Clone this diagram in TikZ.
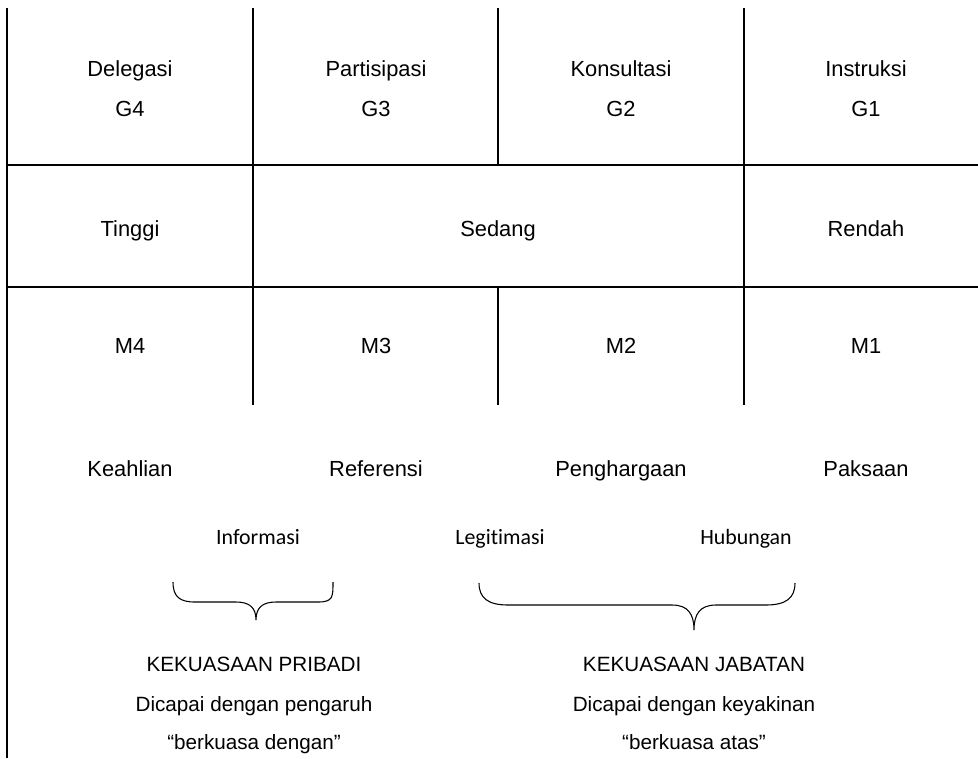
\documentclass[tikz,border=0pt]{standalone}
\usepackage{fontspec}
\setmainfont{Liberation Sans}
\newfontfamily\labelfont[Ligatures=NoCommon]{Carlito}
\begin{document}
\begin{tikzpicture}[x=0.75pt,y=-0.75pt,
  gridline/.style={line width=0.9pt,black},
  bracestroke/.style={line width=0.8pt,black},
  cell/.style={font=\fontsize{16.4}{20}\selectfont,anchor=base,inner sep=0pt},
  summary/.style={font=\fontsize{15.5}{20}\selectfont,anchor=base,inner sep=0pt},
  minor/.style={font=\labelfont\fontsize{16.4}{20}\selectfont,anchor=base,inner sep=0pt}]
\useasboundingbox (0,0) rectangle (978,758);

% table grid
\draw[gridline] (7,8) -- (7,758);
\draw[gridline] (253,8) -- (253,405);
\draw[gridline] (498,8) -- (498,165);
\draw[gridline] (498,287) -- (498,405);
\draw[gridline] (744,8) -- (744,405);
\draw[gridline] (7,165) -- (978,165);
\draw[gridline] (7,287) -- (978,287);

% leadership styles row
\node[cell] (g4) at (130,76) {Delegasi};
\node[cell] (g4code) at (130,116) {G4};
\node[cell] (g3) at (376,76) {Partisipasi};
\node[cell] (g3code) at (376,116) {G3};
\node[cell] (g2) at (621,76) {Konsultasi};
\node[cell] (g2code) at (621,116) {G2};
\node[cell] (g1) at (866,76) {Instruksi};
\node[cell] (g1code) at (866,116) {G1};

% relationship row
\node[cell] (tinggi) at (130,236) {Tinggi};
\node[cell] (sedang) at (498,236) {Sedang};
\node[cell] (rendah) at (866,236) {Rendah};

% maturity row
\node[cell] (m4) at (130,353) {M4};
\node[cell] (m3) at (376,353) {M3};
\node[cell] (m2) at (621,353) {M2};
\node[cell] (m1) at (866,353) {M1};

% power bases
\node[cell] (keahlian) at (130,476) {Keahlian};
\node[cell] (referensi) at (376,476) {Referensi};
\node[cell] (penghargaan) at (621,476) {Penghargaan};
\node[cell] (paksaan) at (866,476) {Paksaan};

\node[minor] (informasi) at (258,544) {Informasi};
\node[minor] (legitimasi) at (500,544) {Legitimasi};
\node[minor] (hubungan) at (746,544) {Hubungan};

% braces
\coordinate (lb) at (256,620);
\coordinate (rb) at (694,630);
\draw[bracestroke] (173,582) .. controls (173,597) and (180,602) .. (195,602) -- (236,602)
  .. controls (250,602) and (256,608) .. (lb)
  .. controls (256,608) and (262,602) .. (276,602) -- (318,602)
  .. controls (333,602) and (333,597) .. (333,582);
\draw[bracestroke] (479,583) .. controls (479,598) and (488,605) .. (508,605) -- (672,605)
  .. controls (688,605) and (694,614) .. (rb)
  .. controls (694,614) and (700,605) .. (716,605) -- (766,605)
  .. controls (786,605) and (795,598) .. (795,583);

% power summaries
\node[summary] (pribadi) at (254,671) {KEKUASAAN PRIBADI};
\node[summary] (pribadi2) at (254,711) {Dicapai dengan pengaruh};
\node[summary] (pribadi3) at (254,749) {``berkuasa dengan''};
\node[summary] (jabatan) at (694,671) {KEKUASAAN JABATAN};
\node[summary] (jabatan2) at (694,711) {Dicapai dengan keyakinan};
\node[summary] (jabatan3) at (694,749) {``berkuasa atas''};
\end{tikzpicture}
\end{document}
